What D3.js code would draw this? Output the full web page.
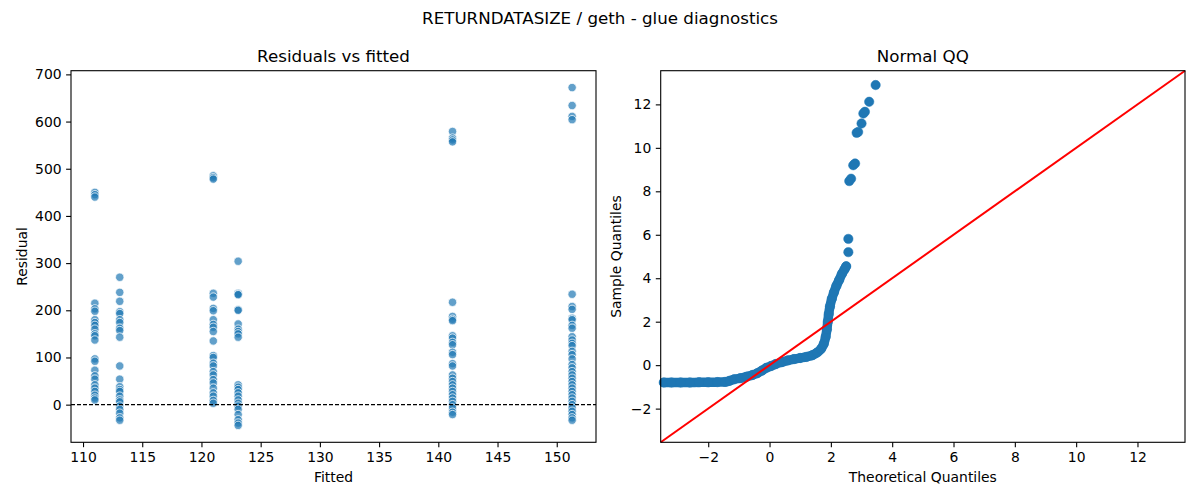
<!DOCTYPE html>
<html>
<head>
<meta charset="utf-8">
<script src="https://cdn.jsdelivr.net/npm/d3@7"></script>
<style>
  html, body { margin: 0; padding: 0; background: #fff; }
  svg { display: block; font-family: "DejaVu Sans", sans-serif; }
</style>
</head>
<body>
<svg id="chart" width="1200" height="500"></svg>
<script>
// ---- Data ----
const figureTitle = "RETURNDATASIZE / geth - glue diagnostics";
const leftTitle = "Residuals vs fitted";
const rightTitle = "Normal QQ";

const fittedLevels = [111.0, 113.1, 121.0, 123.1, 141.2, 151.3];
const residuals111 = [450, 445, 440, 215, 203, 198, 180, 174, 168, 160, 150, 146, 137, 97, 92, 73, 61, 54, 42, 35, 28, 20, 14, 10];
const residuals113 = [270, 238, 219, 197, 193, 180, 174, 162, 157, 143, 82, 54, 38, 32, 28, 18, 10, 6, -3, -10, -18, -28, -33];
const residuals121 = [485, 481, 478, 236, 228, 204, 199, 180, 170, 164, 155, 135, 104, 100, 88, 82, 70, 63, 53, 46, 35, 25, 18, 9, 3];
const residuals123 = [304, 236, 234, 233, 201, 200, 171, 160, 155, 150, 143, 42, 37, 32, 25, 18, 10, 3, -3, -10, -21, -32, -39, -44];
const residuals141 = [579, 565, 561, 557, 217, 187, 181, 178, 146, 141, 132, 127, 111, 106, 87, 82, 63, 56, 49, 42, 35, 28, 21, 14, 7, 0, -7, -16, -21];
const residuals151 = [672, 634, 611, 604, 234, 208, 202, 183, 180, 168, 162, 144, 137, 130, 125, 113, 106, 97, 85, 78, 70, 63, 56, 49, 42, 35, 28, 21, 14, 7, 0, -7, -14, -21, -28, -33];
const residualGroups = [residuals111, residuals113, residuals121, residuals123, residuals141, residuals151];

const leftXTicks = [110, 115, 120, 125, 130, 135, 140, 145, 150];
const leftYTicks = [0, 100, 200, 300, 400, 500, 600, 700];

// QQ: dense band (traced along its centre) and the separate upper tail points
const qqBandTheo   = [-3.45, -3.2, -2.9, -2.6, -2.3, -2.0, -1.7, -1.45, -1.3, -1.15, -0.95, -0.75, -0.55, -0.4, -0.25, -0.1, 0.05, 0.2, 0.4, 0.6, 0.8, 1.0, 1.2, 1.4, 1.55, 1.68, 1.77, 1.83, 1.87, 1.9, 1.93, 1.97, 2.03, 2.1, 2.18, 2.27, 2.36, 2.45, 2.5];
const qqBandSample = [-0.80, -0.80, -0.80, -0.80, -0.79, -0.79, -0.78, -0.77, -0.72, -0.65, -0.60, -0.53, -0.45, -0.37, -0.25, -0.12, -0.04, 0.05, 0.14, 0.22, 0.28, 0.33, 0.38, 0.46, 0.58, 0.75, 0.98, 1.3, 1.65, 2.0, 2.35, 2.7, 3.05, 3.35, 3.65, 3.92, 4.2, 4.42, 4.55];
const qqTailTheo   = [2.57, 2.57, 2.60, 2.66, 2.73, 2.79, 2.84, 2.89, 3.00, 3.06, 3.11, 3.25, 3.46];
const qqTailSample = [5.20, 5.81, 8.47, 8.58, 9.20, 9.28, 10.69, 10.73, 11.12, 11.58, 11.66, 12.12, 12.89];
const qqTicks = [-2, 0, 2, 4, 6, 8, 10, 12];
const qqLimits = [-3.55, 13.55];

// ---- Drawing ----
const svg = d3.select("#chart");
svg.append("rect").attr("width", 1200).attr("height", 500).attr("fill", "#fff");

const blue = "#1f77b4";
const tickFont = "13.9px";
const fmt = d => String(d).replace("-", "\u2212");

const L = {left: 71, right: 596, top: 70.7, bottom: 442.3};
const R = {left: 660.7, right: 1185, top: 70.7, bottom: 442.3};

svg.append("text").attr("x", 600).attr("y", 24).attr("text-anchor", "middle")
  .style("font-size", "16.7px").text(figureTitle);

function frame(box, title, xlab, ylab, ylabX) {
  const cx = (box.left + box.right) / 2, cy = (box.top + box.bottom) / 2;
  svg.append("text").attr("x", cx).attr("y", box.top - 8.5).attr("text-anchor", "middle")
    .style("font-size", "16.7px").text(title);
  svg.append("text").attr("x", cx).attr("y", 482).attr("text-anchor", "middle")
    .style("font-size", tickFont).text(xlab);
  svg.append("text").attr("transform", `translate(${ylabX},${cy}) rotate(-90)`)
    .attr("text-anchor", "middle").style("font-size", tickFont).text(ylab);
}

function axes(box, x, y, xt, yt) {
  const gx = svg.append("g").attr("transform", `translate(0,${box.bottom})`)
    .call(d3.axisBottom(x).tickValues(xt).tickSize(4.9).tickPadding(4.5).tickFormat(fmt));
  const gy = svg.append("g").attr("transform", `translate(${box.left},0)`)
    .call(d3.axisLeft(y).tickValues(yt).tickSize(4.9).tickPadding(4.5).tickFormat(fmt));
  [gx, gy].forEach(g => {
    g.select(".domain").remove();
    g.selectAll(".tick line").attr("stroke", "#000").attr("stroke-width", 1.1);
    g.selectAll(".tick text").attr("fill", "#000").style("font-size", tickFont)
      .style("font-family", "DejaVu Sans, sans-serif");
  });
  svg.append("rect").attr("x", box.left).attr("y", box.top)
    .attr("width", box.right - box.left).attr("height", box.bottom - box.top)
    .attr("fill", "none").attr("stroke", "#000").attr("stroke-width", 1.1);
}

// Left panel
const allRes = residualGroups.flat();
const rMin = d3.min(allRes), rMax = d3.max(allRes);
const fMin = d3.min(fittedLevels), fMax = d3.max(fittedLevels);
const xL = d3.scaleLinear()
  .domain([fMin - 0.05 * (fMax - fMin), fMax + 0.05 * (fMax - fMin)])
  .range([L.left, L.right]);
const yL = d3.scaleLinear()
  .domain([rMin - 0.05 * (rMax - rMin), rMax + 0.05 * (rMax - rMin)])
  .range([L.bottom, L.top]);

const pts = [];
residualGroups.forEach((g, i) => g.forEach(r => pts.push({f: fittedLevels[i], r})));
svg.append("g").selectAll("circle").data(pts).join("circle")
  .attr("cx", d => xL(d.f)).attr("cy", d => yL(d.r)).attr("r", 4.2)
  .attr("fill", blue).attr("fill-opacity", 0.7)
  .attr("stroke", "#fff").attr("stroke-width", 0.75);

svg.append("line").attr("x1", L.left).attr("x2", L.right)
  .attr("y1", yL(0)).attr("y2", yL(0))
  .attr("stroke", "#000").attr("stroke-width", 1.1).attr("stroke-dasharray", "4,2");

axes(L, xL, yL, leftXTicks, leftYTicks);
frame(L, leftTitle, "Fitted", "Residual", 27);

// Right panel
const xR = d3.scaleLinear().domain(qqLimits).range([R.left, R.right]);
const yR = d3.scaleLinear().domain(qqLimits).range([R.bottom, R.top]);

const band = qqBandTheo.map((t, i) => [t, qqBandSample[i]]);
const tail = qqTailTheo.map((t, i) => [t, qqTailSample[i]]);

svg.append("path").datum(band)
  .attr("d", d3.line().x(d => xR(d[0])).y(d => yR(d[1])).curve(d3.curveMonotoneX))
  .attr("fill", "none").attr("stroke", blue).attr("stroke-width", 9.5)
  .attr("stroke-linecap", "round").attr("stroke-linejoin", "round");
svg.append("g").selectAll("circle").data(band.concat(tail)).join("circle")
  .attr("cx", d => xR(d[0])).attr("cy", d => yR(d[1])).attr("r", 4.7)
  .attr("fill", blue).attr("stroke", blue).attr("stroke-width", 0.5);

svg.append("line")
  .attr("x1", xR(qqLimits[0])).attr("y1", yR(qqLimits[0]))
  .attr("x2", xR(qqLimits[1])).attr("y2", yR(qqLimits[1]))
  .attr("stroke", "#ff0000").attr("stroke-width", 2);

axes(R, xR, yR, qqTicks, qqTicks);
frame(R, rightTitle, "Theoretical Quantiles", "Sample Quantiles", 621);
</script>
</body>
</html>
